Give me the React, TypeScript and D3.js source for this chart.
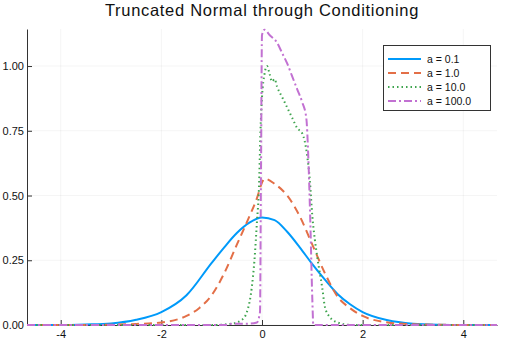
import { useEffect, useRef } from "react";
import * as d3 from "d3";

// values
const blueX = [-4.67, -4, -3.5, -3, -2.5, -2, -1.5, -1, -0.75, -0.5, -0.25, 0, 0.25, 0.5, 0.75, 1, 1.25, 1.5, 1.75, 2, 2.5, 3, 3.5, 4, 4.67];
const blueY = [0, 0, 0.002, 0.006, 0.02, 0.05, 0.115, 0.24, 0.3, 0.355, 0.395, 0.415, 0.405, 0.36, 0.3, 0.235, 0.175, 0.12, 0.08, 0.05, 0.018, 0.005, 0.001, 0, 0];

const orangeX = [-4.67, -3.5, -3, -2.5, -2, -1.5, -1.25, -1, -0.75, -0.5, -0.25, -0.1, 0, 0.05, 0.25, 0.5, 0.75, 1, 1.25, 1.5, 1.75, 2, 2.5, 3, 3.5, 4, 4.67];
const orangeY = [0, 0, 0.001, 0.004, 0.01, 0.035, 0.065, 0.115, 0.2, 0.31, 0.42, 0.49, 0.55, 0.565, 0.545, 0.5, 0.42, 0.31, 0.2, 0.11, 0.065, 0.035, 0.01, 0.003, 0.001, 0, 0];

const greenX = [-4.67, -1, -0.6, -0.4, -0.3, -0.2, -0.15, -0.1, -0.06, -0.03, 0, 0.05, 0.1, 0.15, 0.2, 0.25, 0.3, 0.4, 0.5, 0.6, 0.7, 0.8, 0.9, 0.95, 1, 1.05, 1.1, 1.2, 1.25, 1.35, 1.5, 1.8, 4.67];
const greenY = [0, 0, 0.005, 0.02, 0.05, 0.15, 0.25, 0.4, 0.53, 0.75, 0.88, 0.97, 1.0, 0.97, 0.94, 0.95, 0.92, 0.88, 0.84, 0.8, 0.76, 0.74, 0.65, 0.56, 0.42, 0.33, 0.26, 0.14, 0.07, 0.03, 0.01, 0, 0];

const purpleX = [-4.67, -0.7, -0.6, -0.3, -0.1, -0.04, -0.02, 0, 0.05, 0.15, 0.3, 0.4, 0.5, 0.6, 0.7, 0.8, 0.88, 0.92, 0.96, 1.0, 1.02, 4.67];
const purpleY = [0, 0, 0.005, 0.005, 0.01, 0.05, 0.6, 1.12, 1.14, 1.12, 1.09, 1.05, 1.01, 0.96, 0.91, 0.86, 0.8, 0.65, 0.4, 0.1, 0, 0];

const labels = ["a = 0.1", "a = 1.0", "a = 10.0", "a = 100.0"];
const colors = ["#009AFA", "#E36F47", "#3EA44E", "#C271D2"];
const dashes = ["none", "8,5", "1.5,3", "8,3,2,3"];
const xTicks = [-4, -2, 0, 2, 4];
const yTicks = [0, 0.25, 0.5, 0.75, 1.0];

const App = () => {
  const svgRef = useRef<SVGSVGElement>(null);

  useEffect(() => {
    const width = 506;
    const height = 340;
    const svg = d3.select(svgRef.current);
    svg.selectAll("*").remove();

    const x = d3.scaleLinear().domain([-4.67, 4.67]).range([27, 497]);
    const y = d3.scaleLinear().domain([0, 1.143]).range([325, 29]);
    const font = "'Liberation Sans', Arial, sans-serif";

    svg.attr("width", width).attr("height", height);
    svg.append("rect").attr("width", width).attr("height", height).attr("fill", "#fff");

    // grid
    svg.append("g").selectAll("line").data(xTicks).join("line")
      .attr("x1", (d) => x(d)).attr("x2", (d) => x(d))
      .attr("y1", y.range()[0]).attr("y2", y.range()[1])
      .attr("stroke", "#000").attr("stroke-opacity", 0.08).attr("stroke-width", 0.6);
    svg.append("g").selectAll("line").data(yTicks).join("line")
      .attr("x1", x.range()[0]).attr("x2", x.range()[1])
      .attr("y1", (d) => y(d)).attr("y2", (d) => y(d))
      .attr("stroke", "#000").attr("stroke-opacity", 0.08).attr("stroke-width", 0.6);

    // axes
    const xAxis = d3.axisBottom(x).tickValues(xTicks).tickSizeInner(-5).tickSizeOuter(0)
      .tickFormat((d) => d3.format("d")(d as number).replace("−", "-"));
    const gx = svg.append("g").attr("transform", `translate(0,${y(0)})`).call(xAxis);
    gx.select(".domain").attr("stroke", "#333");
    gx.selectAll(".tick line").attr("stroke", "#333");
    gx.selectAll("text").attr("font-family", font).attr("font-size", 11).attr("fill", "#111")
      .attr("dy", null).attr("y", 13);

    const yAxis = d3.axisLeft(y).tickValues(yTicks).tickSizeInner(-5).tickSizeOuter(0)
      .tickFormat(d3.format(".2f"));
    const gy = svg.append("g").attr("transform", `translate(${x.range()[0]},0)`).call(yAxis);
    gy.select(".domain").attr("stroke", "#333");
    gy.selectAll(".tick line").attr("stroke", "#333");
    gy.selectAll("text").attr("font-family", font).attr("font-size", 11).attr("fill", "#111").attr("x", -3);

    // curves
    const series = [
      { xs: blueX, ys: blueY },
      { xs: orangeX, ys: orangeY },
      { xs: greenX, ys: greenY },
      { xs: purpleX, ys: purpleY },
    ];
    const line = d3.line<[number, number]>()
      .x((d) => x(d[0]))
      .y((d) => y(d[1]))
      .curve(d3.curveMonotoneX);

    series.forEach((s, i) => {
      const pts = s.xs.map((v, j) => [v, s.ys[j]] as [number, number]);
      svg.append("path")
        .attr("d", line(pts))
        .attr("fill", "none")
        .attr("stroke", colors[i])
        .attr("stroke-width", 2)
        .attr("stroke-dasharray", dashes[i]);
    });

    // title
    svg.append("text")
      .attr("x", (x.range()[0] + x.range()[1]) / 2)
      .attr("y", 16)
      .attr("text-anchor", "middle")
      .attr("font-family", font)
      .attr("font-size", 16.5)
      .attr("letter-spacing", 0.7)
      .attr("fill", "#111")
      .text("Truncated Normal through Conditioning");

    // legend
    const lg = svg.append("g");
    lg.append("rect")
      .attr("x", 383.5).attr("y", 45.5).attr("width", 107).attr("height", 65)
      .attr("fill", "#fff").attr("stroke", "#333").attr("stroke-width", 1);
    labels.forEach((lab, i) => {
      const yy = 59 + i * 14;
      lg.append("line")
        .attr("x1", 388).attr("x2", 421).attr("y1", yy).attr("y2", yy)
        .attr("stroke", colors[i]).attr("stroke-width", 2)
        .attr("stroke-dasharray", dashes[i]);
      lg.append("text")
        .attr("x", 427).attr("y", yy + 4)
        .attr("font-family", font).attr("font-size", 10.5).attr("fill", "#111")
        .text(lab);
    });
  }, []);

  return (
    <div style={{ position: "absolute", left: 0, top: 0 }}>
      <svg ref={svgRef} style={{ display: "block" }}></svg>
    </div>
  );
};

export default App;
